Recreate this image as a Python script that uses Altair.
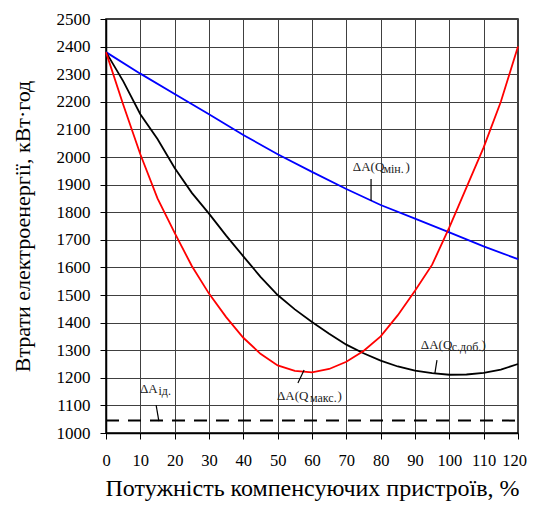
import altair as alt
import pandas as pd

# ---- data ----
x5 = list(range(0, 125, 5))
loss_qmax = [2380, 2190, 2010, 1850, 1725, 1605, 1505, 1420, 1345, 1287, 1245,
             1225, 1220, 1232, 1258, 1297, 1350, 1427, 1515, 1610, 1745, 1890,
             2035, 2200, 2400]
loss_qsdob = [2380, 2275, 2155, 2065, 1960, 1870, 1795, 1715, 1640, 1566, 1500,
              1448, 1402, 1360, 1320, 1289, 1262, 1241, 1226, 1217, 1211, 1212,
              1218, 1230, 1250]
x10 = list(range(0, 130, 10))
loss_qmin = [2380, 2302, 2228, 2155, 2080, 2010, 1946, 1884, 1826, 1777, 1727,
             1676, 1630]
loss_idle = 1045

series_names = ["ΔA(Qмін.)", "ΔA(Qс.доб.)", "ΔA(Qмакс.)"]
series_colors = ["#0000FF", "#000000", "#FF0000"]

x_ticks = list(range(0, 130, 10))
y_ticks = list(range(1000, 2600, 100))

# annotation pieces (main text, subscript, closing parenthesis)
ann_main_x = [71.9, 91.7, 49.8, 9.9]
ann_y = [1949, 1304, 1120, 1145]
ann_main_t = ["ΔA(Q", "ΔA(Q", "ΔA(Q", "ΔA"]
ann_sub_x = [80.8, 100.7, 59.4, 15.3]
ann_sub_t = ["мін.", "с.доб.", "макс.", "ід."]
ann_par_x = [87.2, 109.4, 67.4]
ann_par_y = [1949, 1304, 1120]
lead_x = [77.2, 96.4, 57.7, 14.6]
lead_y = [1920, 1264, 1228, 1101]
lead_x2 = [77.2, 95.8, 55.9, 15.4]
lead_y2 = [1841, 1217, 1181, 1043]

# ---- tables ----
rows = []
for xv, yv in zip(x10, loss_qmin):
    rows.append({"x": xv, "y": yv, "s": series_names[0]})
for xv, yv in zip(x5, loss_qsdob):
    rows.append({"x": xv, "y": yv, "s": series_names[1]})
for xv, yv in zip(x5, loss_qmax):
    rows.append({"x": xv, "y": yv, "s": series_names[2]})
curves = pd.DataFrame(rows)

idle = pd.DataFrame({"x": [0, 120], "y": [loss_idle, loss_idle]})
main_df = pd.DataFrame({"x": ann_main_x, "y": ann_y, "t": ann_main_t})
sub_df = pd.DataFrame({"x": ann_sub_x, "y": ann_y, "t": ann_sub_t})
par_df = pd.DataFrame({"x": ann_par_x, "y": ann_par_y, "t": [")"] * 3})
lead_df = pd.DataFrame({"x": lead_x, "y": lead_y, "x2": lead_x2, "y2": lead_y2})

FONT = "Liberation Serif, Times New Roman, serif"

xs = alt.Scale(domain=[0, 120], nice=False, zero=False)
ys = alt.Scale(domain=[1000, 2500], nice=False, zero=False)

x_axis = alt.Axis(values=x_ticks, format="d", labelOverlap=False,
                  title="Потужність компенсуючих пристроїв, %",
                  grid=True, gridColor="#404040", gridWidth=1, gridOpacity=1,
                  domainColor="black", domainWidth=1.5, tickColor="black",
                  tickSize=6, labelFont=FONT, labelFontSize=16.5, labelColor="black",
                  labelPadding=13, titleFont=FONT, titleFontSize=24,
                  titleFontWeight="normal", titleColor="black", titlePadding=8,
                  labelFlush=False,
                  labelOffset={"condition": {"test": "datum.value == 120", "value": -4},
                               "value": 0})
y_axis = alt.Axis(values=y_ticks, format="d", labelOverlap=False,
                  title="Втрати електроенергії, кВт·год",
                  grid=True, gridColor="#404040", gridWidth=1, gridOpacity=1,
                  domainColor="black", domainWidth=1.5, tickColor="black",
                  tickSize=6, labelFont=FONT, labelFontSize=17, labelColor="black",
                  labelPadding=10, titleFont=FONT, titleFontSize=22,
                  titleFontWeight="normal", titleColor="black", titlePadding=22,
                  labelFlush=False)

X = alt.X("x:Q", scale=xs, axis=x_axis)
Y = alt.Y("y:Q", scale=ys, axis=y_axis)

lines = alt.Chart(curves).mark_line(strokeWidth=1.8).encode(
    x=X, y=Y,
    color=alt.Color("s:N", scale=alt.Scale(domain=series_names, range=series_colors),
                    legend=None),
    detail="s:N",
)

idle_line = alt.Chart(idle).mark_line(color="black", strokeWidth=2,
                                      strokeDash=[13, 9]).encode(x=X, y=Y)

leaders = alt.Chart(lead_df).mark_rule(color="black", strokeWidth=1.2).encode(
    x=X, y=Y, x2="x2:Q", y2="y2:Q")

main_txt = alt.Chart(main_df).mark_text(align="left", baseline="alphabetic",
                                        font=FONT, fontSize=13, color="#222").encode(
    x=X, y=Y, text="t:N")
sub_txt = alt.Chart(sub_df).mark_text(align="left", baseline="alphabetic", dy=2,
                                      font=FONT, fontSize=12, color="#222").encode(
    x=X, y=Y, text="t:N")
par_txt = alt.Chart(par_df).mark_text(align="left", baseline="alphabetic",
                                      font=FONT, fontSize=13, color="#222").encode(
    x=X, y=Y, text="t:N")

chart = alt.layer(lines, idle_line, leaders, main_txt, sub_txt, par_txt).properties(
    width=412, height=414,
    autosize=alt.AutoSizeParams(type="none"),
    padding={"left": 98, "top": 11, "right": 10, "bottom": 68},
    background="white",
).configure_view(stroke="black", strokeWidth=1.5)

chart.save("out.html", embed_options={"renderer": "svg", "actions": False})
